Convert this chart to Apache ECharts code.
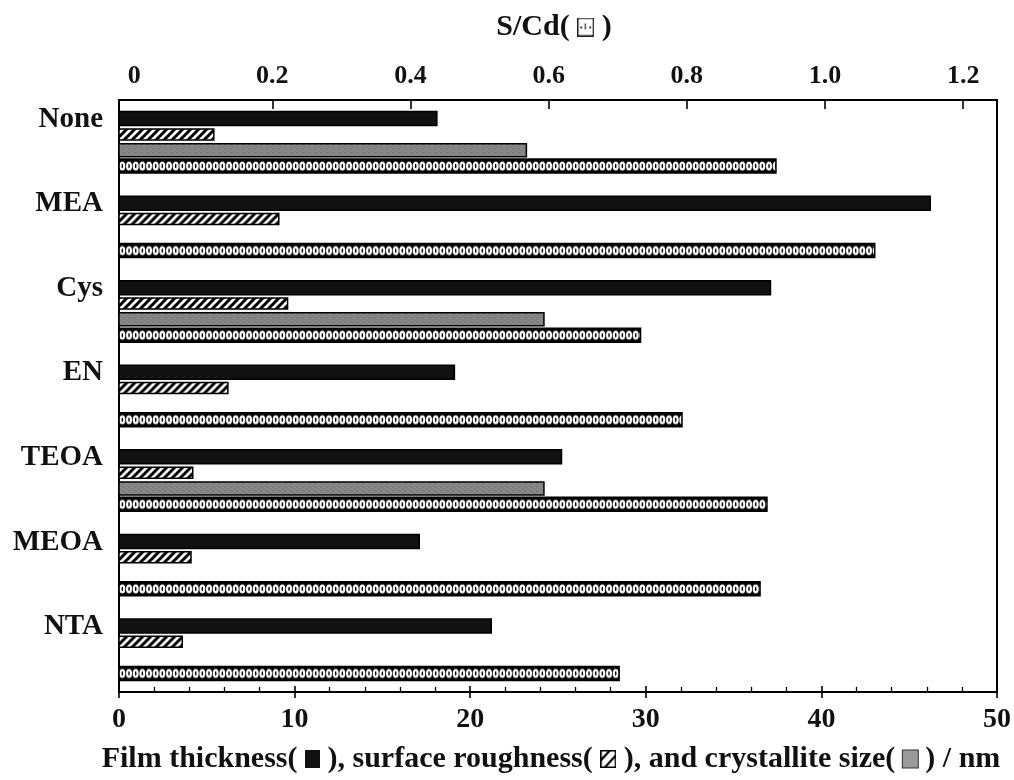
<!DOCTYPE html>
<html><head><meta charset="utf-8">
<script src="https://cdn.jsdelivr.net/npm/echarts@6/dist/echarts.min.js"></script>
<style>html,body{margin:0;padding:0;background:#fff}#c{width:1014px;height:780px}</style>
</head><body><div id="c"></div>
<script>
// ---- data ----
const categories = ['None', 'MEA', 'Cys', 'EN', 'TEOA', 'MEOA', 'NTA'];
const filmThickness = [18.1, 46.2, 37.1, 19.1, 25.2, 17.1, 21.2];      // nm (bottom axis)
const surfaceRoughness = [5.4, 9.1, 9.6, 6.2, 4.2, 4.1, 3.6];          // nm (bottom axis)
const crystalliteSize = [23.2, null, 24.2, null, 24.2, null, null];    // nm (bottom axis)
const sCdRatio = [0.929, 1.072, 0.733, 0.793, 0.916, 0.906, 0.702];    // S/Cd (top axis)
const bottomTickValues = [0, 10, 20, 30, 40, 50];
const topTickLabels = [0, 0.2, 0.4, 0.6, 0.8, 1.0, 1.2];
const topTickMarks = [0.2, 0.4, 0.6, 0.8, 1.0, 1.2];

const FONT = "'Liberation Serif', 'Times New Roman', serif";
const INK = '#111';

function makeCanvas(w, h, draw) {
  const c = document.createElement('canvas');
  c.width = w; c.height = h;
  draw(c.getContext('2d'));
  return c;
}
const hatchImg = makeCanvas(8, 8, ctx => {
  ctx.fillStyle = '#fff'; ctx.fillRect(0, 0, 8, 8);
  ctx.strokeStyle = '#000'; ctx.lineWidth = 3;
  ctx.beginPath();
  ctx.moveTo(-2, 10); ctx.lineTo(10, -2);
  ctx.moveTo(-6, 6); ctx.lineTo(6, -6);
  ctx.moveTo(2, 14); ctx.lineTo(14, 2);
  ctx.stroke();
});
const dotImg = makeCanvas(20, 14, ctx => {
  ctx.fillStyle = '#000'; ctx.fillRect(0, 0, 20, 14);
  for (let i = 0; i < 3; i++) {
    const cx = 3.33 + i * 6.67;
    ctx.fillStyle = '#fff';
    ctx.beginPath(); ctx.ellipse(cx, 7, 3.0, 4.6, 0, 0, Math.PI * 2); ctx.fill();
    ctx.fillStyle = '#000';
    ctx.beginPath(); ctx.ellipse(cx, 7, 0.8, 2.3, 0, 0, Math.PI * 2); ctx.fill();
  }
});
const grayImg = makeCanvas(6, 4, ctx => {
  ctx.fillStyle = '#828282'; ctx.fillRect(0, 0, 6, 4);
  ctx.fillStyle = '#8e8e8e'; ctx.fillRect(0, 1, 3, 1); ctx.fillRect(3, 3, 3, 1);
  ctx.fillStyle = '#767676'; ctx.fillRect(3, 0, 2, 1);
});
const hatchIcon = makeCanvas(16, 18, ctx => {
  ctx.fillStyle = '#fff'; ctx.fillRect(0, 0, 16, 18);
  ctx.strokeStyle = '#000'; ctx.lineWidth = 2.2;
  ctx.beginPath();
  ctx.moveTo(0, 11); ctx.lineTo(10, 0);
  ctx.moveTo(4, 18); ctx.lineTo(16, 5);
  ctx.stroke();
  ctx.lineWidth = 1.5; ctx.strokeRect(0.75, 0.75, 14.5, 16.5);
});
const dotIcon = makeCanvas(17, 19, ctx => {
  ctx.fillStyle = '#fff'; ctx.fillRect(0, 0, 17, 19);
  ctx.strokeStyle = '#222'; ctx.lineWidth = 1.4; ctx.strokeRect(0.7, 0.7, 15.6, 17.6);
  ctx.fillStyle = '#444';
  ctx.fillRect(3, 9, 2, 2); ctx.fillRect(7.5, 6, 1.4, 6); ctx.fillRect(12, 9, 2, 2);
});

const SLOT = 0.187; // bar slot spacing as a fraction of the category band
function barSeries(name, values, xAxisIndex, slot, h, fill) {
  return {
    type: 'custom', name, xAxisIndex, yAxisIndex: 0,
    data: values.map((v, i) => (v == null ? null : [v, i])).filter(Boolean),
    encode: { x: 0, y: 1 },
    clip: false,
    renderItem(params, api) {
      const p = api.coord([api.value(0), api.value(1)]);
      const band = api.size([0, 1])[1];
      const cy = p[1] + (slot - 1.5) * band * SLOT;
      const x0 = params.coordSys.x;
      return {
        type: 'rect', x: x0, y: cy - h / 2,
        shape: { x: 0, y: 0, width: p[0] - x0, height: h },
        style: { fill, stroke: '#000', lineWidth: 1.5 }
      };
    }
  };
}

const chart = echarts.init(document.getElementById('c'));
chart.setOption({
  animation: false,
  backgroundColor: '#fff',
  grid: { left: 119, right: 15, top: 100, bottom: 88, show: true, borderColor: '#000', borderWidth: 2, backgroundColor: 'transparent' },
  xAxis: [
    {
      type: 'value', position: 'bottom', min: 0, max: 50, interval: 10,
      axisLine: { show: true, lineStyle: { color: '#000', width: 2 } },
      axisTick: { show: true, inside: true, length: 6, lineStyle: { color: '#000', width: 1.6 } },
      minorTick: { show: true, splitNumber: 5, length: 5, lineStyle: { color: '#000', width: 1.3 } },
      splitLine: { show: false },
      axisLabel: { fontFamily: FONT, fontWeight: 'bold', fontSize: 28, color: INK, margin: 14,
        customValues: bottomTickValues },
      name: 'Film thickness( {a| } ), surface roughness( {b| } ), and crystallite size( {c| } ) / nm',
      nameLocation: 'middle', nameGap: 52,
      nameTextStyle: {
        fontFamily: FONT, fontWeight: 'bold', fontSize: 30, color: INK, padding: [0, 14, 0, 0],
        rich: {
          a: { width: 15, height: 18, backgroundColor: '#111' },
          b: { width: 16, height: 18, backgroundColor: { image: hatchIcon } },
          c: { width: 15, height: 17, backgroundColor: '#9a9a9a', borderColor: '#333', borderWidth: 1 }
        }
      }
    },
    {
      type: 'value', position: 'top', min: -0.022, max: 1.249,
      axisLine: { show: true, lineStyle: { color: '#000', width: 2 } },
      axisTick: { show: true, inside: true, length: 9, customValues: topTickMarks, lineStyle: { color: '#000', width: 1.6 } },
      splitLine: { show: false },
      axisLabel: { fontFamily: FONT, fontWeight: 'bold', fontSize: 26, color: INK, margin: 11,
        customValues: topTickLabels,
        formatter: v => (v === 0 ? '0' : v.toFixed(1)) },
      name: 'S/Cd( {d| } )', nameLocation: 'middle', nameGap: 58,
      nameTextStyle: {
        fontFamily: FONT, fontWeight: 'bold', fontSize: 30, color: INK, padding: [0, 8, 0, 0],
        rich: { d: { width: 17, height: 19, backgroundColor: { image: dotIcon } } }
      }
    },
    {
      type: 'value', position: 'bottom', min: 0, max: 50, interval: 10,
      axisLine: { show: false },
      axisTick: { show: true, inside: false, length: 6, lineStyle: { color: '#000', width: 1.6 } },
      axisLabel: { show: false }, splitLine: { show: false }
    }
  ],
  yAxis: {
    type: 'category', data: categories, inverse: true,
    axisLine: { show: true, lineStyle: { color: '#000', width: 2 } },
    axisTick: { show: false },
    splitLine: { show: false },
    axisLabel: { fontFamily: FONT, fontWeight: 'bold', fontSize: 29, color: INK, margin: 16,
      interval: 0, showMinLabel: true, showMaxLabel: true, hideOverlap: false,
      lineHeight: 46, formatter: v => v + '\n ' }
  },
  series: [
    barSeries('Film thickness', filmThickness, 0, 0, 14, '#111'),
    barSeries('Surface roughness', surfaceRoughness, 0, 1, 11, { image: hatchImg, repeat: 'repeat' }),
    barSeries('Crystallite size', crystalliteSize, 0, 2, 13, { image: grayImg, repeat: 'repeat' }),
    barSeries('S/Cd', sCdRatio, 1, 3, 14, { image: dotImg, repeat: 'repeat' })
  ]
});
</script></body></html>
